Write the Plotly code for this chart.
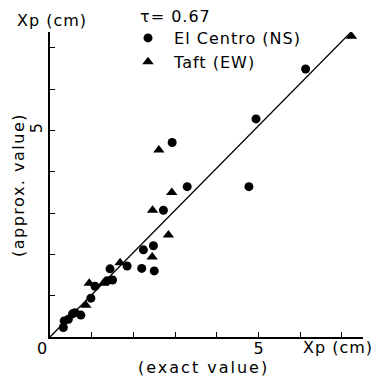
import plotly.graph_objects as go

# El Centro (NS) points: exact (x) vs approx (y), cm
ec_x = [6.13, 4.94, 4.77, 2.93, 3.29, 2.72, 2.24, 2.48, 2.20, 2.50, 1.85, 1.44, 1.50, 1.37,
        1.08, 0.98, 0.60, 0.74, 0.54, 0.44, 0.34, 0.32]
ec_y = [6.49, 5.28, 3.64, 4.71, 3.64, 3.07, 2.11, 2.21, 1.66, 1.60, 1.72, 1.65, 1.38, 1.36,
        1.23, 0.94, 0.59, 0.53, 0.56, 0.43, 0.39, 0.23]
# Taft (EW) points
tf_x = [7.23, 2.61, 2.92, 2.46, 2.84, 2.45, 1.68, 0.94, 1.28, 0.86]
tf_y = [7.28, 4.53, 3.50, 3.07, 2.47, 1.94, 1.80, 1.30, 1.30, 0.77]
# fitted line
fit_x = [0, 7.43]
fit_y = [0, 7.60]

tick_vals = [0, 1, 2, 3, 4, 5, 6, 7]
x_tick_text = ["", "", "", "", "", "5", "", ""]
y_tick_text = ["", "", "", "", "", "5", "", ""]

FONT = "DejaVu Sans"
FS = 16


def spaced(txt, ls):
    return '<span style="letter-spacing:%spx">%s</span>' % (ls, txt)


fig = go.Figure()
fig.add_trace(go.Scatter(x=fit_x, y=fit_y, mode="lines", line=dict(color="black", width=1.3),
                         showlegend=False, hoverinfo="skip"))
fig.add_trace(go.Scatter(x=ec_x, y=ec_y, mode="markers", name=spaced(" El Centro (NS)", 1),
                         marker=dict(symbol="circle", size=9, color="black")))
fig.add_trace(go.Scatter(x=tf_x, y=tf_y, mode="markers", name=spaced(" Taft (EW)", 1),
                         marker=dict(symbol="triangle-up", size=10, color="black")))

W, H = 376, 380
ml, mr, mt, mb = 50, 13, 32, 43
pw = W - ml - mr
ph = H - mt - mb
xmax = pw / 41.7
ymax = ph / 41.3

fig.update_layout(
    width=W, height=H,
    margin=dict(l=ml, r=mr, t=mt, b=mb),
    paper_bgcolor="white", plot_bgcolor="white",
    font=dict(family=FONT, size=FS, color="black"),
    xaxis=dict(range=[0, xmax], showgrid=False, zeroline=False, showline=True,
               linecolor="black", linewidth=1.5, ticks="inside", ticklen=5, tickcolor="black",
               tickwidth=1.2, tickvals=tick_vals, ticktext=x_tick_text,
               ticklabelstandoff=-4,
               tickfont=dict(family=FONT, size=FS)),
    yaxis=dict(range=[0, ymax], showgrid=False, zeroline=False, showline=True,
               linecolor="black", linewidth=1.5, ticks="inside", ticklen=5, tickcolor="black",
               tickwidth=1.2, tickvals=tick_vals, ticktext=y_tick_text, tickangle=-90,
               tickfont=dict(family=FONT, size=FS)),
    legend=dict(x=(128 - ml) / pw, y=1 + (mt - 21) / ph, xanchor="left", yanchor="top",
                bgcolor="rgba(0,0,0,0)", itemwidth=30, tracegroupgap=0,
                font=dict(family=FONT, size=FS)),
    showlegend=True,
)


def px2paper(px, py):
    return (px - ml) / pw, (H - mb - py) / ph


annots = [
    (spaced("\u03c4= 0.67", 1), 138, 17, 0, "left"),
    (spaced("Xp (cm)", 1), 52, 20, 0, "center"),
    ("0", 42, 348, 0, "center"),
    (spaced("Xp (cm)", 1), 338, 347, 0, "center"),
    (spaced("(exact value)", 2), 203, 367, 0, "center"),
    (spaced("(approx. value)", 1.5), 18, 185, -90, "center"),
]
for txt, px, py, ang, xa in annots:
    xp, yp = px2paper(px, py)
    fig.add_annotation(text=txt, x=xp, y=yp, xref="paper", yref="paper", showarrow=False,
                       xanchor=xa, yanchor="middle", textangle=ang,
                       font=dict(family=FONT, size=FS, color="black"))

fig.write_html("out.html")
